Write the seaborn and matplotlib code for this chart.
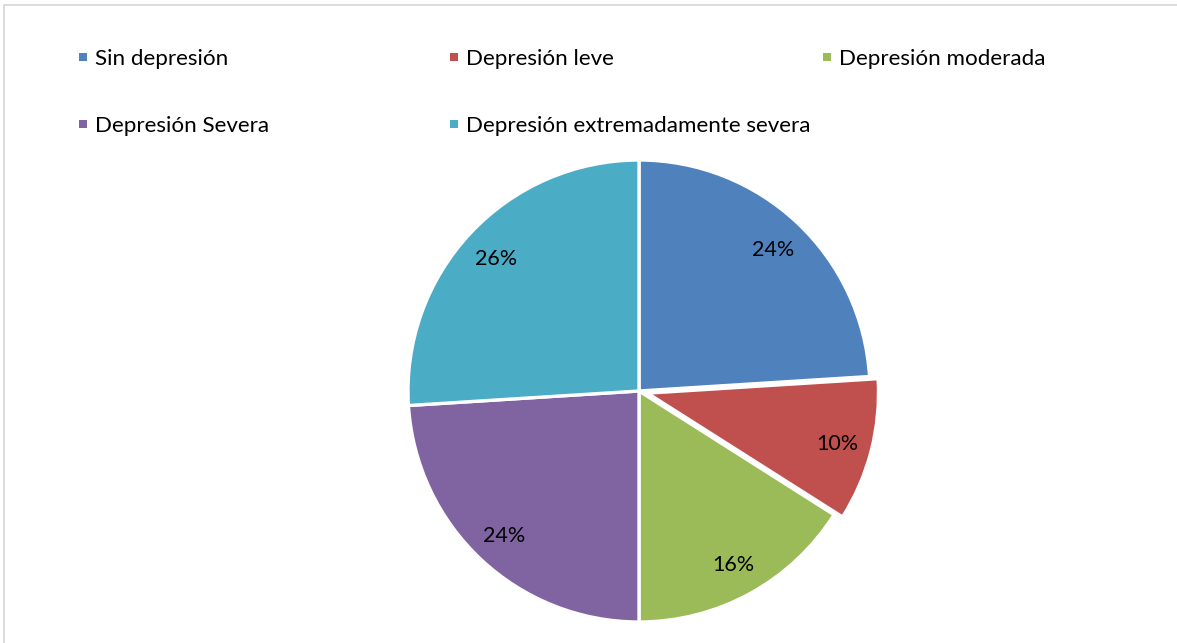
import matplotlib
matplotlib.use("Agg")
import matplotlib.pyplot as plt
from matplotlib.lines import Line2D
from matplotlib.patches import Rectangle
import seaborn as sns

# Distribution of depression levels (percent)
categories = ["Sin depresión", "Depresión leve", "Depresión moderada",
              "Depresión Severa", "Depresión extremadamente severa"]
values = [24, 10, 16, 24, 26]
colors = ["#4F81BD", "#C0504D", "#9BBB59", "#8064A2", "#4BACC6"]
explode = [0.0, 0.038, 0.0, 0.0, 0.0]

sns.set_theme(style="white")
plt.rcParams["font.family"] = ["Lato", "DejaVu Sans"]

W, H = 1177, 643
fig = plt.figure(figsize=(W / 100, H / 100), dpi=100)
fig.patch.set_facecolor("white")

# Pie axes: center (639, 391) px from top, radius 231 px
R = 231.0
lim = 1.2
cx, cy = 639.0, H - 391.0
side = 2 * lim * R
ax = fig.add_axes([(cx - side / 2) / W, (cy - side / 2) / H, side / W, side / H])
wedges, texts, autotexts = ax.pie(
    values, colors=colors, explode=explode, startangle=90, counterclock=False,
    autopct=lambda p: f"{p:.0f}%", pctdistance=0.85, radius=1,
    wedgeprops=dict(edgecolor="white", linewidth=2.4),
    textprops=dict(fontsize=15.5, color="black"))
for t in autotexts:
    x, y = t.get_position()
    t.set_position((x, y - 0.01))
ax.set_xlim(-lim, lim)
ax.set_ylim(-lim, lim)
ax.set_aspect("equal")
ax.axis("off")

# Legend laid out in two rows
col_x = [79, 450, 823]
row_y = [57, 124]
sq = 8
for i, (lab, col) in enumerate(zip(categories, colors)):
    r, c = divmod(i, 3)
    mx, my = col_x[c], row_y[r]
    fig.add_artist(Rectangle(((mx) / W, (H - my - sq / 2) / H), sq / W, sq / H,
                             transform=fig.transFigure, facecolor=col,
                             edgecolor="none"))
    fig.text((mx + 16) / W, (H - my - 2) / H, lab, ha="left", va="center",
             fontsize=16.1, color="black")

# Light frame along top and left
fig.add_artist(Line2D([4 / W, 1.0], [(H - 5) / H, (H - 5) / H],
                      transform=fig.transFigure, color="#D9D9D9", linewidth=1.3))
fig.add_artist(Line2D([4 / W, 4 / W], [0, (H - 5) / H],
                      transform=fig.transFigure, color="#D9D9D9", linewidth=1.3))

fig.savefig("out.png", dpi=100, facecolor="white")
